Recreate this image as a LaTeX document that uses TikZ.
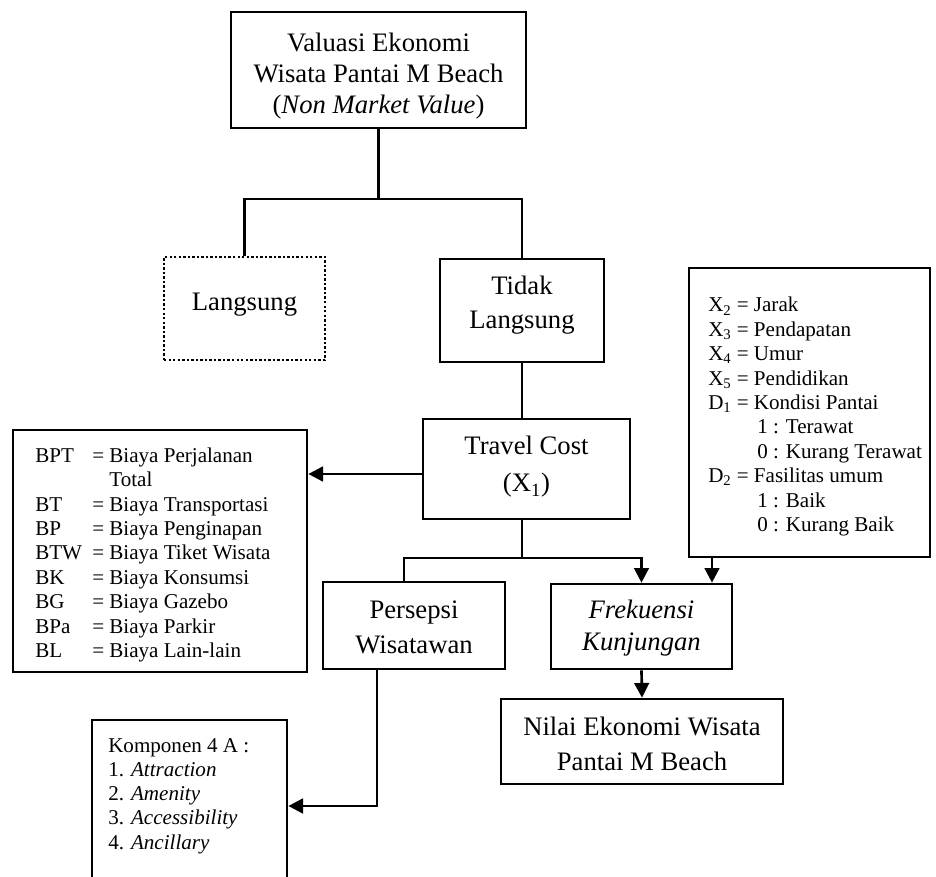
\documentclass[tikz,border=0pt]{standalone}
\usepackage{fontspec}
\setmainfont{Liberation Serif}
\usetikzlibrary{arrows.meta,fit}
\newcommand\mlines[1]{\begin{tabular}[t]{@{}c@{}}#1\end{tabular}}
\newcommand\llines[1]{\begin{tabular}[t]{@{}l@{}}#1\end{tabular}}
\newcommand\lab[1]{\makebox[42.75pt][l]{#1}}
\begin{document}
\begin{tikzpicture}[x=0.75pt,y=-0.75pt,
  box/.style={draw,line width=2pt,inner sep=0pt},
  dotbox/.style={draw,line width=2pt,inner sep=0pt,dash pattern=on 1.8pt off 1.6pt},
  big/.style={anchor=base,inner sep=0pt,font=\fontsize{20}{#1}\selectfont},
  small/.style={anchor=base west,inner sep=0pt,font=\fontsize{15.8}{#1}\selectfont},
  conn/.style={line width=2pt},
  arr/.style={line width=2pt,-{Triangle[length=11pt,width=11pt]}}]
\useasboundingbox (0,0) rectangle (936,877);

% boxes
\node[box,fit={(231,12)(526,128)}] (top) {};
\node[dotbox,fit={(164,257)(325,360)}] (lang) {};
\node[box,fit={(440,259)(604,362)}] (tidak) {};
\node[box,fit={(423,419)(630,519)}] (tc) {};
\node[box,fit={(13,430)(307,672)}] (biaya) {};
\node[box,fit={(689,268)(930,557)}] (var) {};
\node[box,fit={(323,582)(505,669)}] (pers) {};
\node[box,fit={(551,584)(732,669)}] (frek) {};
\node[box,fit={(501,699)(783,784)}] (nilai) {};
\node[box,fit={(92,720)(287,900)}] (komp) {};

% texts
\node[big=23.25] (ttop) at (378.5,52) {\mlines{Valuasi Ekonomi\\Wisata Pantai M Beach\\(\textit{Non Market Value})}};
\node[big=24] (tlang) at (244.5,311) {Langsung};
\node[big=25.5] (ttidak) at (522,295) {\mlines{Tidak\\Langsung}};
\node[big=27.75] (ttc) at (526.5,455) {\mlines{Travel Cost\\(X\textsubscript{1})}};
\node[big=26.25] (tpers) at (414,618) {\mlines{Persepsi\\Wisatawan}};
\node[big=24] (tfrek) at (641.5,618) {\mlines{\textit{Frekuensi}\\\textit{Kunjungan}}};
\node[big=26.25] (tnilai) at (642,735) {\mlines{Nilai Ekonomi Wisata\\Pantai M Beach}};

\node[small=18.375] (tbiaya) at (35,462) {\llines{%
\lab{BPT}= Biaya Perjalanan\\
\lab{}\phantom{= }Total\\
\lab{BT}= Biaya Transportasi\\
\lab{BP}= Biaya Penginapan\\
\lab{BTW}= Biaya Tiket Wisata\\
\lab{BK}= Biaya Konsumsi\\
\lab{BG}= Biaya Gazebo\\
\lab{BPa}= Biaya Parkir\\
\lab{BL}= Biaya Lain-lain}};

\node[small=18.3] (tvar) at (708,312) {\llines{%
X\textsubscript{2} = Jarak\\
X\textsubscript{3} = Pendapatan\\
X\textsubscript{4} = Umur\\
X\textsubscript{5} = Pendidikan\\
D\textsubscript{1} = Kondisi Pantai\\
\hspace*{36.75pt}1 : Terawat\\
\hspace*{36.75pt}0 : Kurang Terawat\\
D\textsubscript{2} = Fasilitas umum\\
\hspace*{36.75pt}1 : Baik\\
\hspace*{36.75pt}0 : Kurang Baik}};

\node[small=18.2] (tkomp) at (108,752) {\llines{%
Komponen 4 A :\\
1. \textit{Attraction}\\
2. \textit{Amenity}\\
3. \textit{Accessibility}\\
4. \textit{Ancillary}}};

% helper coordinates
\coordinate (s1) at (378.5,199);
\coordinate (s2) at (523,558);
\coordinate (pl) at (404,558);
\coordinate (ay) at (0,474);
\coordinate (vx) at (712,0);
\coordinate (px) at (377,0);
\coordinate (ky) at (0,806);

% connectors
\draw[conn] (top.south) -- (s1);
\draw[conn] (lang.north) -- (lang.north |- s1) -- (tidak.north |- s1) -- (tidak.north);
\draw[conn] (tidak.south) -- (tidak.south |- tc.north);
\draw[arr] (tc.west |- ay) -- (biaya.east |- ay);
\draw[conn] (tidak.south |- tc.south) -- (tidak.south |- s2);
\draw[arr] (pl |- pers.north) -- (pl) -| (frek.north);
\draw[arr] (vx |- var.south) -- (vx |- frek.north);
\draw[arr] (frek.south) -- (nilai.north);
\draw[arr] (px |- pers.south) |- (komp.east |- ky);
\end{tikzpicture}
\end{document}
